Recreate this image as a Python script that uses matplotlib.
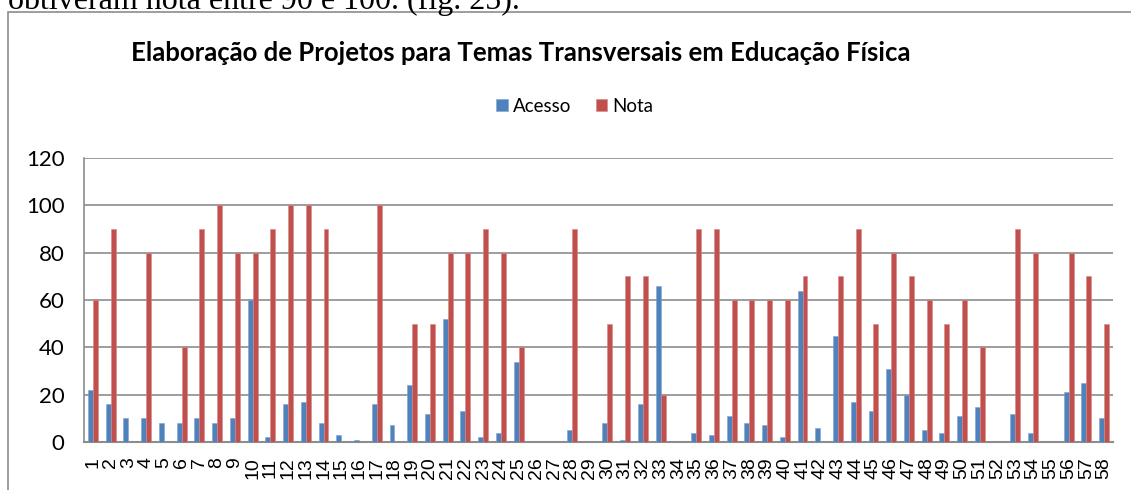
import numpy as np
import matplotlib
matplotlib.use('Agg')
import matplotlib.pyplot as plt
from matplotlib.patches import Rectangle

# dados
categorias = [str(i) for i in range(1, 59)]
acesso = [22, 16, 10, 10, 8, 8, 10, 8, 10, 60,
          2, 16, 17, 8, 3, 1, 16, 7, 24, 12,
          52, 13, 2, 4, 34, 0, 0, 5, 0, 8,
          1, 16, 66, 0, 4, 3, 11, 8, 7, 2,
          64, 6, 45, 17, 13, 31, 20, 5, 4, 11,
          15, 0, 12, 4, 0, 21, 25, 10]
nota = [60, 90, 0, 80, 0, 40, 90, 100, 80, 80,
        90, 100, 100, 90, 0, 0, 100, 0, 50, 50,
        80, 80, 90, 80, 40, 0, 0, 90, 0, 50,
        70, 70, 20, 0, 90, 90, 60, 60, 60, 60,
        70, 0, 70, 90, 50, 80, 70, 60, 50, 60,
        40, 0, 90, 80, 0, 80, 70, 50]
yticks = [0, 20, 40, 60, 80, 100, 120]

W, H = 1131, 490
fig = plt.figure(figsize=(W/100, H/100), dpi=100)

# texto do documento cortado no topo
fig.text(8/W, 1 - 9/H, 'obtiveram nota entre 90 e 100. (fig. 25).',
         fontsize=23, family='Liberation Serif', va='baseline', ha='left')

# moldura do grafico
fig.patches.append(Rectangle((8/W, -0.1), 1.2, 1 - 12/H + 0.1, transform=fig.transFigure,
                             fill=False, edgecolor='#8c8c8c', linewidth=1.2))

ax = fig.add_axes([84/W, (H-442)/H, 1029/W, 284/H])
x = np.arange(len(categorias))
bw = 0.28
ax.bar(x - bw/2, acesso, width=bw, color='#4F81BD', edgecolor='#7fa3d0', linewidth=0.4, label='Acesso', zorder=3)
ax.bar(x + bw/2, nota, width=bw, color='#C0504D', edgecolor='#d88583', linewidth=0.4, label='Nota', zorder=3)

ax.set_xlim(-0.5, len(categorias) - 0.5)
ax.set_ylim(0, 120)
ax.set_yticks(yticks)
ax.set_yticklabels([str(v) for v in yticks], fontsize=16, family='Lato')
ax.set_xticks(x)
ax.set_xticklabels(categorias, rotation=90, fontsize=14, family='Liberation Sans', va='top', ha='center')
ax.tick_params(axis='y', length=0, pad=14)
ax.tick_params(axis='x', length=0, pad=11)
ax.grid(axis='y', color='#8c8c8c', linewidth=1.2, zorder=0)
for s in ['top', 'right']:
    ax.spines[s].set_visible(False)
ax.spines['left'].set_color('#8c8c8c')
ax.spines['bottom'].set_color('#8c8c8c')
ax.spines['bottom'].set_linewidth(1.5)
ax.spines['left'].set_linewidth(1.2)

fig.text(521/W, 1 - 53/H, 'Elaboração de Projetos para Temas Transversais em Educação Física',
         fontsize=18.5, fontweight='bold', family='Lato', ha='center', va='center')
fig.legend(loc='center', bbox_to_anchor=(575/W, 1 - 106/H), ncol=2, frameon=False,
           prop={'family': 'Lato', 'size': 13.5}, handlelength=0.6, handleheight=0.6,
           handletextpad=0.3, columnspacing=1.3)

fig.savefig('out.png', dpi=100)
